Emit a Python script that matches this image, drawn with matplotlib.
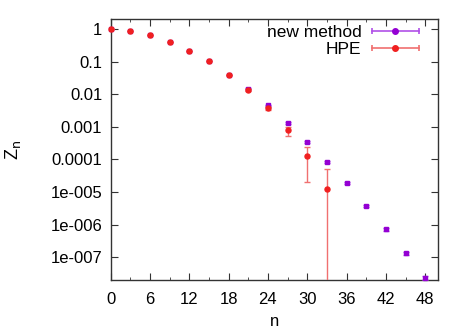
import matplotlib
matplotlib.use("Agg")
import matplotlib.pyplot as plt
import numpy as np
from matplotlib.ticker import FixedLocator, LogLocator, NullFormatter, MultipleLocator
from matplotlib.legend_handler import HandlerBase
from matplotlib.lines import Line2D

plt.rcParams['font.family'] = ['Liberation Sans', 'DejaVu Sans']

# new method
n_new = [0, 3, 6, 9, 12, 15, 18, 21, 24, 27, 30, 33, 36, 39, 42, 45, 48]
z_new = [1.0, 0.89, 0.67, 0.41, 0.22, 0.104, 0.040, 0.015, 0.0046, 0.0013,
         0.00035, 8.3e-5, 1.86e-5, 3.7e-6, 7.2e-7, 1.3e-7, 2.3e-8]
zerr_new = [0, 0, 0, 0, 0, 0, 0, 0.0004, 0.0002, 0.00008, 0.00002, 6e-6,
            1.3e-6, 3e-7, 8e-8, 1.5e-8, 3e-9]

# HPE
n_hpe = [0, 3, 6, 9, 12, 15, 18, 21, 24, 27, 30, 33]
z_hpe = [1.0, 0.89, 0.67, 0.41, 0.22, 0.104, 0.040, 0.0135, 0.0037, 0.00078,
         0.000129, 1.2e-5]
zlo_hpe = [0, 0, 0, 0, 0, 0, 0, 0.001, 0.0004, 0.00025, 0.000108, 1.2e-5]
zhi_hpe = [0, 0, 0, 0, 0, 0, 0, 0.001, 0.0004, 0.00022, 0.00011, 3.9e-5]

xticks = [0, 6, 12, 18, 24, 30, 36, 42, 48]
yticks = [1, 0.1, 0.01, 0.001, 0.0001, 1e-5, 1e-6, 1e-7]
ylabels = ['1', '0.1', '0.01', '0.001', '0.0001', '1e-005', '1e-006', '1e-007']

purple = '#9400d3'
purple_bar = '#b050e8'
red = '#f02020'
red_bar = '#f07070'


class ErrHandler(HandlerBase):
    def __init__(self, color, barcolor, marker, ms):
        super().__init__()
        self.color = color
        self.barcolor = barcolor
        self.marker = marker
        self.ms = ms

    def create_artists(self, legend, orig_handle, xdescent, ydescent, width,
                       height, fontsize, trans):
        y = height / 2.0 - ydescent
        x0, x1 = -xdescent, width - xdescent
        line = Line2D([x0, x1], [y, y], color=self.barcolor, lw=1.2)
        caps = Line2D([x0, x1], [y, y], ls='none', marker='|',
                      ms=5, mew=1.2, color=self.barcolor)
        dot = Line2D([(x0 + x1) / 2], [y], ls='none', marker=self.marker,
                     ms=self.ms, color=self.color)
        for a in (line, caps, dot):
            a.set_transform(trans)
        return [line, caps, dot]


fig = plt.figure(figsize=(4.77, 3.34), dpi=100)
ax = fig.add_axes([0.2317, 0.162, 0.919 - 0.2317, 0.942 - 0.162])

ax.errorbar(n_new, z_new, yerr=zerr_new, fmt='none',
            ecolor=purple_bar, elinewidth=1.0, capsize=2, capthick=1.0, zorder=3)
h_new, = ax.plot(n_new, z_new, ls='none', marker='s', ms=3.4, color=purple,
                 clip_on=False, zorder=3.5)
ax.errorbar(n_hpe, z_hpe, yerr=[zlo_hpe, zhi_hpe], fmt='none',
            ecolor=red_bar, elinewidth=1.0, capsize=2, capthick=1.0, zorder=4)
h_hpe, = ax.plot(n_hpe, z_hpe, ls='none', marker='o', ms=3.6, color=red,
                 clip_on=False, zorder=4.5)

ax.set_yscale('log')
ax.set_xlim(0, 50)
ax.set_ylim(2e-8, 2)
ax.xaxis.set_major_locator(FixedLocator(xticks))
ax.xaxis.set_minor_locator(MultipleLocator(3))
ax.set_xticklabels([str(t) for t in xticks])
ax.yaxis.set_major_locator(FixedLocator(yticks))
ax.set_yticklabels(ylabels)
ax.yaxis.set_minor_locator(LogLocator(base=10, subs=np.arange(2, 10)))
ax.yaxis.set_minor_formatter(NullFormatter())

ax.tick_params(which='both', direction='in', top=True, right=True,
               labelsize=12, color='#333333')
ax.tick_params(which='major', length=5, width=0.8)
ax.tick_params(axis='x', which='major', pad=9)
ax.tick_params(axis='y', which='major', pad=6)
ax.tick_params(which='minor', length=2.5, width=0.6)
for s in ax.spines.values():
    s.set_linewidth(1.0)
    s.set_color('#333333')

ax.set_xlabel('n', fontsize=12, labelpad=5)
ax.set_ylabel(r'Z$_{\mathrm{n}}$', fontsize=13, labelpad=20)

leg = ax.legend([h_new, h_hpe], ['new method', 'HPE'], loc='upper right',
                bbox_to_anchor=(0.956, 1.0), borderaxespad=0.0,
                frameon=False, fontsize=12.5, markerfirst=False,
                handlelength=2.7, handletextpad=0.6,
                labelspacing=0.1, borderpad=0.3,
                handler_map={h_new: ErrHandler(purple, purple_bar, 'o', 4),
                             h_hpe: ErrHandler(red, red_bar, 'o', 4)})

fig.savefig('out.png', dpi=100)
